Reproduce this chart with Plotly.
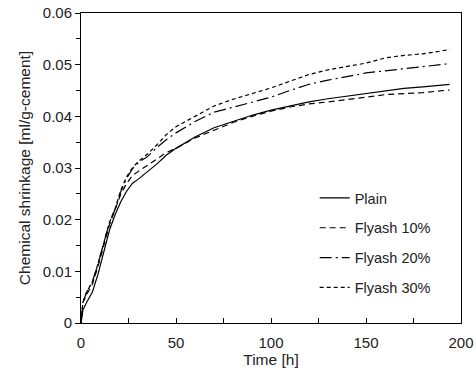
import plotly.graph_objects as go

time_h = [0, 1, 3, 6, 9, 12, 15, 18, 21, 24, 27, 30, 35, 40, 45, 50, 60, 70, 80, 90,
          100, 110, 120, 130, 140, 150, 160, 170, 180, 194]

plain = [0, 0.0025, 0.004, 0.006, 0.0095, 0.014, 0.018, 0.021, 0.0235, 0.0255, 0.027,
         0.0278, 0.0293, 0.0308, 0.0325, 0.0338, 0.036, 0.0378, 0.039, 0.0402, 0.0412,
         0.042, 0.0428, 0.0434, 0.0439, 0.0445, 0.0449, 0.0454, 0.0457, 0.0462]

flyash10 = [0, 0.004, 0.0055, 0.0075, 0.011, 0.015, 0.019, 0.022, 0.025, 0.027, 0.0285,
            0.0293, 0.0305, 0.0318, 0.033, 0.0338, 0.0358, 0.0373, 0.0388, 0.040, 0.041,
            0.0418, 0.0424, 0.0428, 0.0432, 0.0437, 0.0442, 0.0444, 0.0446, 0.0451]

flyash20 = [0, 0.004, 0.006, 0.008, 0.0115, 0.0155, 0.0195, 0.022, 0.0255, 0.028, 0.0298,
            0.031, 0.0322, 0.034, 0.0355, 0.0368, 0.039, 0.0408, 0.0418, 0.0427, 0.0437,
            0.045, 0.0462, 0.047, 0.0477, 0.0484, 0.0488, 0.0492, 0.0495, 0.0502]

flyash30 = [0, 0.004, 0.006, 0.008, 0.0115, 0.0155, 0.0195, 0.0222, 0.0258, 0.0283, 0.030,
            0.0312, 0.0327, 0.0345, 0.0365, 0.038, 0.040, 0.042, 0.0433, 0.0444, 0.0455,
            0.0468, 0.0481, 0.049, 0.0497, 0.0503, 0.0513, 0.0518, 0.0521, 0.0529]

series_names = ["Plain", "Flyash 10%", "Flyash 20%", "Flyash 30%"]
series_values = [plain, flyash10, flyash20, flyash30]
series_dashes = ["solid", "6px,4px", "12px,4px,2px,4px", "4px,3px"]

x_ticks = [0, 50, 100, 150, 200]
y_ticks = [0, 0.01, 0.02, 0.03, 0.04, 0.05, 0.06]
y_tick_labels = ["0", "0.01", "0.02", "0.03", "0.04", "0.05", "0.06"]

fig = go.Figure()
for i, (name, vals, dash) in enumerate(zip(series_names, series_values, series_dashes)):
    fig.add_trace(go.Scatter(
        x=time_h, y=vals, mode="lines", name=name, legendgroup=f"g{i}",
        line=dict(color="black", width=1.2, dash=dash),
    ))

font_family = "Liberation Sans, Arial, sans-serif"
fig.update_layout(
    width=476, height=371,
    margin=dict(l=81, r=15, t=13, b=48),
    plot_bgcolor="white", paper_bgcolor="white",
    font=dict(family=font_family, size=15, color="#222"),
    showlegend=True,
    legend=dict(x=0.615, y=0.455, xanchor="left", yanchor="top",
                bgcolor="rgba(0,0,0,0)", tracegroupgap=8,
                font=dict(family=font_family, size=14.5, color="#222"),
                itemwidth=30),
    xaxis=dict(
        range=[0, 200], tickvals=x_ticks, ticks="inside", ticklen=5,
        minor=dict(dtick=25, ticks="inside", ticklen=5, tickcolor="black"),
        showline=True, linecolor="black", linewidth=1, mirror=True,
        showgrid=False, zeroline=False, tickcolor="black",
        ticklabelstandoff=6, automargin=False,
        title=dict(text="Time [h]", font=dict(size=15.5), standoff=4),
        tickfont=dict(size=15),
    ),
    yaxis=dict(
        range=[0, 0.06], tickvals=y_ticks, ticktext=y_tick_labels,
        ticks="outside", ticklen=5, automargin=False,
        minor=dict(dtick=0.005, ticks="outside", ticklen=4, tickcolor="black"),
        showline=True, linecolor="black", linewidth=1, mirror=True,
        showgrid=False, zeroline=False, tickcolor="black",
        title=dict(text="Chemical shrinkage [ml/g-cement]", font=dict(size=15.5), standoff=8),
        tickfont=dict(size=15),
    ),
)

fig.write_html("out.html")
